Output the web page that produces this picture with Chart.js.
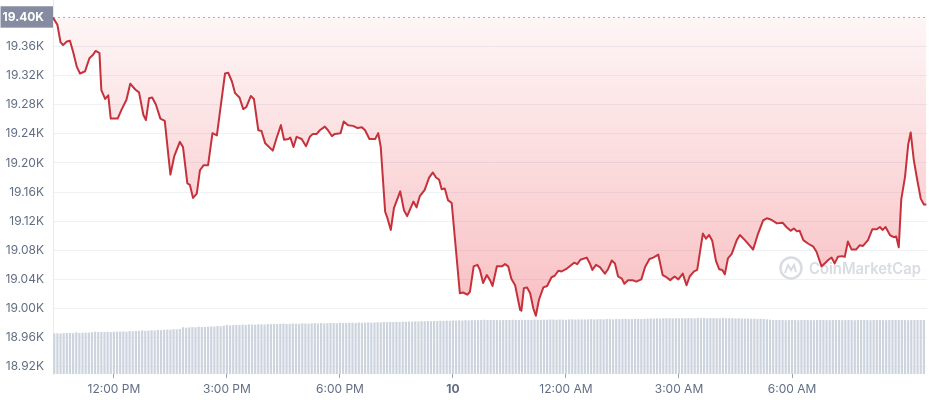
<!DOCTYPE html>
<html>
<head>
<meta charset="utf-8">
<script src="https://cdn.jsdelivr.net/npm/chart.js@4/dist/chart.umd.min.js"></script>
<style>
  html, body { margin: 0; padding: 0; background: #fff; }
  #wrap { width: 929px; height: 400px; }
</style>
</head>
<body>
<div id="wrap"><canvas id="chart-price"></canvas></div>
<script>
'use strict';

// minutes since 00:00 on the 9th
const RANGE_START = 623;
const RANGE_END = 2015;
const OPEN_PRICE = 19400;

const X_TICK_MINUTES = [720, 900, 1080, 1260, 1440, 1620, 1800];
const X_TICK_LABELS = ['12:00 PM', '3:00 PM', '6:00 PM', '10', '12:00 AM', '3:00 AM', '6:00 AM'];
const Y_TICKS = [18920, 18960, 19000, 19040, 19080, 19120, 19160, 19200, 19240, 19280, 19320, 19360, 19400];

const PRICE_MINUTES = [
  623, 630, 635, 639, 645, 650, 655, 661, 666, 674, 681, 686, 691, 697, 700, 706, 711, 715, 726, 732,
  740, 746, 754, 760, 767, 771, 776, 781, 787, 794, 801, 810, 816, 825, 830, 837, 841, 846, 852, 857,
  863, 870, 877, 884, 897, 902, 908, 913, 920, 926, 931, 938, 943, 950, 955, 961, 973, 979, 986, 991,
  998, 1001, 1006, 1011, 1019, 1026, 1032, 1037, 1043, 1048, 1056, 1061, 1067, 1072, 1081, 1086, 1093, 1101, 1108, 1115,
  1120, 1127, 1136, 1141, 1145, 1152, 1155, 1161, 1166, 1176, 1182, 1187, 1197, 1202, 1207, 1215, 1222, 1228, 1233, 1238,
  1242, 1247, 1252, 1258, 1271, 1276, 1283, 1287, 1293, 1299, 1303, 1308, 1314, 1319, 1323, 1330, 1338, 1343, 1348, 1353,
  1359, 1367, 1369, 1373, 1378, 1383, 1388, 1392, 1397, 1404, 1410, 1417, 1422, 1428, 1433, 1440, 1446, 1453, 1458, 1463,
  1473, 1478, 1482, 1488, 1494, 1502, 1507, 1513, 1518, 1523, 1529, 1533, 1539, 1546, 1552, 1560, 1566, 1573, 1579, 1587,
  1594, 1600, 1606, 1613, 1619, 1626, 1632, 1637, 1644, 1649, 1658, 1663, 1668, 1673, 1679, 1684, 1689, 1693, 1698, 1704,
  1712, 1717, 1725, 1733, 1738, 1746, 1754, 1760, 1767, 1776, 1785, 1791, 1798, 1803, 1808, 1812, 1818, 1826, 1834, 1839,
  1847, 1852, 1858, 1863, 1868, 1873, 1880, 1884, 1889, 1895, 1902, 1908, 1913, 1921, 1928, 1935, 1940, 1944, 1949, 1956,
  1962, 1966, 1970, 1974, 1980, 1985, 1989, 1994, 1999, 2005, 2010, 2014
];

const PRICE_VALUES = [
  19400, 19390, 19366, 19362, 19367, 19368, 19353, 19332, 19323, 19326, 19344, 19348, 19354, 19351, 19300, 19288, 19293, 19261, 19261, 19273,
  19287, 19309, 19301, 19297, 19266, 19259, 19289, 19290, 19280, 19261, 19258, 19184, 19209, 19229, 19222, 19172, 19170, 19152, 19158, 19190,
  19197, 19197, 19241, 19238, 19323, 19324, 19312, 19296, 19290, 19274, 19277, 19292, 19288, 19245, 19244, 19227, 19217, 19234, 19252, 19232,
  19233, 19235, 19222, 19236, 19233, 19223, 19236, 19240, 19240, 19245, 19250, 19245, 19237, 19240, 19241, 19257, 19252, 19251, 19248, 19249,
  19245, 19233, 19233, 19241, 19222, 19133, 19126, 19108, 19138, 19161, 19135, 19127, 19147, 19139, 19154, 19163, 19180, 19187, 19180, 19177,
  19164, 19165, 19149, 19145, 19021, 19022, 19019, 19023, 19058, 19060, 19053, 19035, 19046, 19039, 19031, 19058, 19058, 19061, 19058, 19041,
  19032, 18998, 18997, 19028, 19029, 19021, 19000, 18990, 19012, 19029, 19031, 19043, 19045, 19052, 19051, 19054, 19058, 19063, 19061, 19067,
  19070, 19062, 19053, 19060, 19057, 19048, 19054, 19066, 19062, 19044, 19041, 19034, 19039, 19039, 19037, 19040, 19057, 19068, 19070, 19074,
  19046, 19043, 19039, 19044, 19040, 19048, 19032, 19044, 19051, 19053, 19103, 19096, 19101, 19093, 19065, 19054, 19053, 19047, 19069, 19075,
  19094, 19101, 19094, 19086, 19081, 19103, 19121, 19124, 19122, 19117, 19118, 19112, 19107, 19110, 19106, 19107, 19094, 19089, 19085, 19078,
  19058, 19062, 19067, 19070, 19062, 19071, 19072, 19071, 19092, 19081, 19081, 19087, 19086, 19094, 19109, 19109, 19112, 19108, 19112, 19101,
  19098, 19099, 19084, 19150, 19181, 19225, 19242, 19204, 19179, 19151, 19143, 19143
];

// volume bars, one every 5 minutes from VOLUME_START (billions USD)
const VOLUME_START = 625;
const VOLUME_STEP = 5;
const VOLUME_VALUES = [
  28.2, 28.3, 28.2, 28.4, 28.5, 28.5, 28.4, 28.9, 28.6, 28.7,
  28.8, 28.8, 29.0, 29.4, 29.1, 29.2, 29.2, 29.3, 29.1, 29.4,
  29.5, 29.5, 29.6, 29.4, 29.8, 29.7, 29.9, 30.0, 30.3, 30.0,
  30.2, 30.4, 30.3, 30.6, 30.5, 30.7, 30.9, 30.8, 31.2, 31.0,
  31.3, 32.5, 32.2, 32.4, 32.6, 32.5, 32.9, 32.7, 32.8, 33.0,
  33.1, 33.0, 33.4, 33.2, 33.6, 34.1, 33.8, 34.0, 34.2, 34.1,
  34.3, 34.2, 34.5, 34.4, 34.3, 34.6, 34.5, 34.4, 34.7, 34.6,
  34.8, 34.7, 34.9, 35.0, 34.8, 34.9, 35.1, 35.0, 34.9, 35.2,
  35.1, 35.0, 35.2, 35.3, 35.1, 35.4, 35.2, 35.3, 35.5, 35.4,
  35.3, 35.6, 35.5, 35.4, 35.6, 35.7, 35.5, 35.8, 35.6, 35.7,
  35.9, 35.7, 35.8, 36.0, 35.9, 36.1, 36.0, 36.2, 36.1, 36.3,
  36.2, 36.4, 36.3, 36.5, 36.4, 36.6, 36.5, 36.7, 36.6, 36.8,
  36.7, 36.9, 36.8, 37.0, 36.9, 37.1, 37.0, 37.2, 37.1, 37.3,
  37.2, 37.4, 37.3, 37.5, 37.4, 37.6, 37.5, 37.7, 37.5, 37.6,
  37.5, 37.6, 37.4, 37.5, 37.6, 37.5, 37.7, 37.6, 37.5, 37.6,
  37.7, 37.6, 37.5, 37.8, 37.7, 37.6, 37.8, 37.7, 37.9, 37.8,
  37.7, 37.9, 37.8, 37.7, 37.9, 38.0, 37.8, 37.9, 38.0, 37.9,
  38.0, 38.1, 37.9, 38.0, 38.1, 38.0, 38.2, 38.1, 38.0, 38.2,
  38.1, 38.2, 38.3, 38.1, 38.2, 38.4, 38.3, 38.2, 38.4, 38.5,
  38.6, 38.5, 38.7, 38.6, 38.7, 38.8, 38.7, 38.6, 38.8, 38.7,
  38.8, 38.7, 38.9, 38.8, 38.7, 38.9, 38.8, 38.9, 38.7, 38.8,
  38.9, 38.8, 38.7, 38.9, 38.8, 38.7, 38.8, 38.6, 38.7, 38.6,
  38.5, 38.6, 38.4, 38.5, 38.3, 38.4, 38.2, 38.0, 37.8, 37.6,
  37.5, 37.6, 37.5, 37.4, 37.5, 37.6, 37.5, 37.4, 37.5, 37.5,
  37.6, 37.5, 37.4, 37.5, 37.6, 37.5, 37.4, 37.5, 37.6, 37.5,
  37.5, 37.4, 37.5, 37.6, 37.5, 37.4, 37.5, 37.5, 37.6, 37.5,
  37.4, 37.5, 37.6, 37.5, 37.5, 37.4, 37.5, 37.6, 37.5, 37.5,
  37.6, 37.5, 37.4, 37.5, 37.6, 37.5, 37.5, 37.6
];

const RED = '#c5323c';
const AXIS_TEXT = '#616e85';

Chart.defaults.font.family = 'Inter, "Noto Sans", sans-serif';
Chart.defaults.font.size = 12;

const isOpenTick = (ctx) => !!(ctx && ctx.tick && ctx.tick.value === OPEN_PRICE);

function fillGradient(ctx) {
  const area = ctx.chart.chartArea;
  if (!area) return 'rgba(234,57,67,0.15)';
  const g = ctx.chart.ctx.createLinearGradient(0, area.top, 0, area.bottom - 50);
  g.addColorStop(0, 'rgba(234,57,67,0.03)');
  g.addColorStop(1, 'rgba(234,57,67,0.33)');
  return g;
}

// faint CoinMarketCap mark behind the series
const watermark = {
  id: 'watermark',
  beforeDatasetsDraw(chart) {
    const { ctx, chartArea: a } = chart;
    const cx = a.right - 136;
    const cy = a.top + 268;
    ctx.save();
    ctx.strokeStyle = '#d8dce3';
    ctx.lineWidth = 2.5;
    ctx.beginPath();
    ctx.arc(cx, cy, 10.5, 0, Math.PI * 2);
    ctx.stroke();
    ctx.lineWidth = 2;
    ctx.beginPath();
    ctx.moveTo(cx - 6, cy + 5);
    ctx.lineTo(cx - 3, cy - 3);
    ctx.lineTo(cx, cy + 2);
    ctx.lineTo(cx + 3, cy - 3);
    ctx.lineTo(cx + 5, cy + 4);
    ctx.stroke();
    ctx.fillStyle = '#d8dce3';
    ctx.font = '600 15.5px Inter, sans-serif';
    ctx.textBaseline = 'middle';
    ctx.fillText('CoinMarketCap', cx + 18, cy + 1, a.right - cx - 24);
    ctx.restore();
  }
};

const priceData = PRICE_MINUTES.map((m, i) => ({ x: m, y: PRICE_VALUES[i] }));
const volumeData = VOLUME_VALUES.map((v, i) => ({ x: VOLUME_START + i * VOLUME_STEP, y: v }));

new Chart(document.getElementById('chart-price'), {
  data: {
    datasets: [
      {
        type: 'line',
        label: 'Price',
        data: priceData,
        yAxisID: 'y',
        borderColor: RED,
        borderWidth: 2,
        borderJoinStyle: 'round',
        pointRadius: 0,
        tension: 0,
        fill: { value: OPEN_PRICE },
        backgroundColor: fillGradient,
        order: 1
      },
      {
        type: 'line',
        label: 'Open',
        data: [{ x: RANGE_START, y: OPEN_PRICE }, { x: RANGE_END, y: OPEN_PRICE }],
        yAxisID: 'y',
        borderColor: '#a7aec0',
        borderWidth: 1,
        borderDash: [2, 3],
        pointRadius: 0,
        fill: false,
        order: 2
      },
      {
        type: 'bar',
        label: 'Volume',
        data: volumeData,
        yAxisID: 'yv',
        backgroundColor: '#cdd4de',
        barPercentage: 0.7,
        categoryPercentage: 1,
        order: 3
      }
    ]
  },
  options: {
    responsive: true,
    maintainAspectRatio: false,
    animation: false,
    layout: { padding: { top: 0, right: 2, left: 0, bottom: 0 } },
    plugins: { legend: { display: false }, tooltip: { enabled: false } },
    scales: {
      x: {
        type: 'linear',
        offset: false,
        min: RANGE_START,
        max: RANGE_END,
        afterBuildTicks: (axis) => { axis.ticks = X_TICK_MINUTES.map((value) => ({ value })); },
        afterFit: (axis) => { axis.height = 26; axis.paddingLeft = 0; axis.paddingRight = 0; },
        border: { display: false },
        grid: { offset: false, drawOnChartArea: false, drawTicks: true, tickLength: 4, color: '#9aa3b5' },
        ticks: {
          autoSkip: false,
          maxRotation: 0,
          padding: 4,
          color: AXIS_TEXT,
          font: (ctx) => ({ size: 12, weight: ctx && X_TICK_LABELS[ctx.index] === '10' ? 'bold' : 'normal' }),
          callback: (value) => X_TICK_LABELS[X_TICK_MINUTES.indexOf(value)]
        }
      },
      y: {
        position: 'left',
        min: 18910,
        max: 19424,
        afterBuildTicks: (axis) => { axis.ticks = Y_TICKS.map((value) => ({ value })); },
        afterFit: (axis) => { axis.width = 53; axis.paddingTop = 0; axis.paddingBottom = 0; },
        border: { display: true, color: '#e6e9ee' },
        grid: {
          drawTicks: false,
          color: (ctx) => (isOpenTick(ctx) ? 'rgba(0,0,0,0)' : '#eff2f5')
        },
        ticks: {
          padding: 9,
          color: (ctx) => (isOpenTick(ctx) ? '#ffffff' : AXIS_TEXT),
          font: (ctx) => ({ size: 12, weight: isOpenTick(ctx) ? 'bold' : 'normal' }),
          showLabelBackdrop: (ctx) => isOpenTick(ctx),
          backdropColor: '#858ca2',
          backdropPadding: { left: 2, right: 9, top: 4, bottom: 3 },
          callback: (value) => (value / 1000).toFixed(2) + 'K'
        }
      },
      yv: {
        display: false,
        min: 0,
        max: 260
      }
    }
  },
  plugins: [watermark]
});
</script>
</body>
</html>
